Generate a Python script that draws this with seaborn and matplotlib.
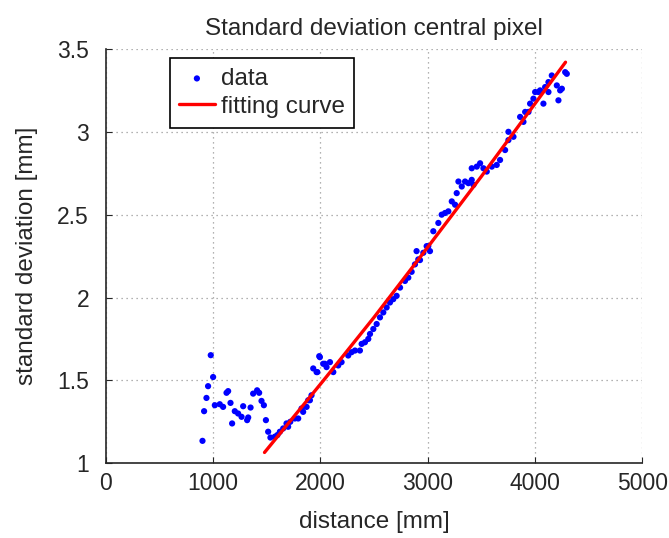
import matplotlib
matplotlib.use("Agg")
import matplotlib.pyplot as plt
import seaborn as sns
import pandas as pd

dist_mm = [
    902, 917, 939, 954, 979, 1001, 1017, 1063, 1094, 1126, 1141, 1163, 1178, 1203,
    1234, 1266, 1281, 1318, 1328, 1350, 1374, 1411, 1430, 1452, 1474, 1493, 1514,
    1535, 1576, 1600, 1623, 1654, 1685, 1700, 1720, 1763, 1794, 1825, 1840, 1872,
    1887, 1903, 1918, 1934, 1965, 1972, 1990, 1996, 2027, 2043, 2058, 2090, 2121,
    2167, 2198, 2260, 2291, 2323, 2369, 2385, 2416, 2447, 2463, 2494, 2525, 2556,
    2587, 2618, 2649, 2680, 2711, 2743, 2789, 2820, 2851, 2882, 2897, 2913, 2929,
    2960, 2991, 3006, 3022, 3053, 3100, 3131, 3162, 3193, 3225, 3256, 3271, 3287,
    3318, 3349, 3380, 3411, 3411, 3427, 3458, 3489, 3520, 3551, 3598, 3644, 3675,
    3722, 3753, 3753, 3800, 3862, 3893, 3909, 3940, 3955, 3986, 4002, 4033, 4048,
    4079, 4095, 4126, 4126, 4157, 4204, 4219, 4235, 4251, 4282, 4297,
]
std_mm = [
    1.135, 1.314, 1.394, 1.465, 1.652, 1.52, 1.35, 1.356, 1.34, 1.425, 1.435, 1.364,
    1.24, 1.314, 1.30, 1.28, 1.344, 1.26, 1.276, 1.336, 1.42, 1.44, 1.425, 1.376,
    1.35, 1.26, 1.19, 1.155, 1.16, 1.17, 1.19, 1.21, 1.24, 1.22, 1.25, 1.27, 1.27,
    1.33, 1.31, 1.34, 1.38, 1.38, 1.41, 1.572, 1.55, 1.55, 1.646, 1.64, 1.60, 1.60,
    1.58, 1.61, 1.55, 1.59, 1.61, 1.65, 1.67, 1.68, 1.68, 1.72, 1.73, 1.75, 1.78,
    1.81, 1.84, 1.88, 1.91, 1.94, 1.97, 1.99, 2.01, 2.06, 2.10, 2.12, 2.155, 2.20,
    2.28, 2.23, 2.226, 2.27, 2.31, 2.31, 2.28, 2.40, 2.45, 2.50, 2.51, 2.52, 2.58,
    2.56, 2.63, 2.70, 2.67, 2.70, 2.69, 2.71, 2.78, 2.68, 2.79, 2.81, 2.78, 2.76,
    2.79, 2.80, 2.83, 2.89, 2.95, 3.00, 2.97, 3.09, 3.06, 3.12, 3.12, 3.17, 3.20,
    3.24, 3.24, 3.25, 3.17, 3.27, 3.30, 3.24, 3.34, 3.28, 3.19, 3.25, 3.26, 3.36,
    3.35,
]

# fitting curve (slightly convex)
fit_dist = [1480, 2030, 2500, 2910, 3500, 4285]
fit_std = [1.065, 1.50, 1.88, 2.226, 2.73, 3.42]

x_ticks = [0, 1000, 2000, 3000, 4000, 5000]
y_ticks = [1, 1.5, 2, 2.5, 3, 3.5]
y_ticklabels = ['1', '1.5', '2', '2.5', '3', '3.5']

sns.set_style("ticks")
plt.rcParams['font.family'] = ['Liberation Sans', 'DejaVu Sans']
plt.rcParams['xtick.direction'] = 'in'
plt.rcParams['ytick.direction'] = 'in'

df = pd.DataFrame({'distance': dist_mm, 'std': std_mm})
fit_df = pd.DataFrame({'distance': fit_dist, 'std': fit_std})

fig = plt.figure(figsize=(6.69, 5.38), dpi=100)
ax = fig.add_axes([0.158, 0.139, 0.802, 0.770])

sns.scatterplot(data=df, x='distance', y='std', ax=ax, color='#0000ff',
                s=20, edgecolor='none', label='data', zorder=3)
sns.lineplot(data=fit_df, x='distance', y='std', ax=ax, color='#ff0000',
             linewidth=2.4, label='fitting curve', zorder=4)

ax.set_xlim(0, 5000)
ax.set_ylim(1, 3.5)
ax.set_xticks(x_ticks)
ax.set_yticks(y_ticks)
ax.set_xticklabels([str(t) for t in x_ticks])
ax.set_yticklabels(y_ticklabels)
ax.tick_params(labelsize=16.5, length=4, width=0.8)
ax.tick_params(axis='x', pad=6)
ax.tick_params(axis='y', pad=12)
ax.grid(True, linestyle=(0, (1, 3)), color='#999999', linewidth=0.9)
ax.set_axisbelow(True)
sns.despine(ax=ax)
ax.spines['left'].set_linewidth(1.2)
ax.spines['bottom'].set_linewidth(1.2)

ax.set_xlabel('distance [mm]', fontsize=17.5, labelpad=12)
ax.set_ylabel('standard deviation [mm]', fontsize=17.5, labelpad=14)
ax.set_title('Standard deviation central pixel', fontsize=17.5, pad=10)

leg = ax.legend(loc='upper left', bbox_to_anchor=(0.119, 0.978), fontsize=17.5,
                frameon=True, fancybox=False, framealpha=1, edgecolor='black',
                handlelength=1.45, handletextpad=0.25, borderpad=0.4,
                borderaxespad=0, labelspacing=0.25, markerscale=1.0)
leg.get_frame().set_linewidth(1.2)

fig.savefig('out.png', dpi=100)
